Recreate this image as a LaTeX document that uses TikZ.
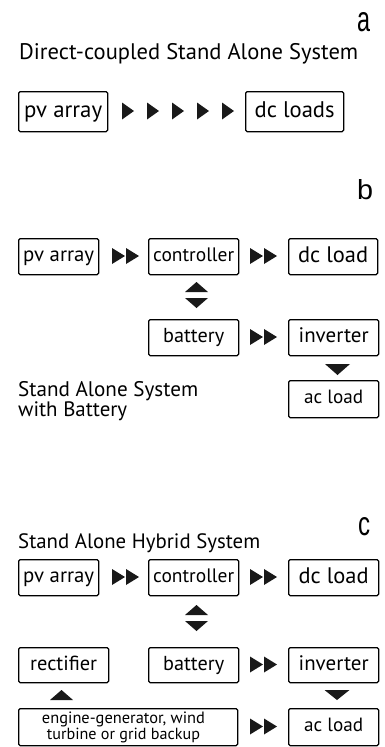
\documentclass[tikz,border=0pt]{standalone}
\usepackage{fontspec}
\setmainfont{PT Sans}
\newfontfamily\labfont{Liberation Sans}
\newcommand{\fitw}[2]{\resizebox{#1}{!}{\vphantom{Ag}#2}}
\newcommand{\plainw}[2]{\resizebox{#1}{!}{#2}}
\newcommand{\bx}[6]{\node[box, minimum width={#4-#2}, minimum height={#5-#3}] (#1) at (#2,#3) {#6};}
\newcommand{\rtri}[4]{\fill[tri] (#1,{#2-#4/2}) -- ({#1+#3},#2) -- (#1,{#2+#4/2}) -- cycle;}
\newcommand{\utri}[4]{\fill[tri] ({#1-#3/2},{#2+#4}) -- (#1,#2) -- ({#1+#3/2},{#2+#4}) -- cycle;}
\newcommand{\dtri}[4]{\fill[tri] ({#1-#3/2},#2) -- ({#1+#3/2},#2) -- (#1,{#2+#4}) -- cycle;}
\begin{document}
\begin{tikzpicture}[x=1pt,y=-1pt,
  box/.style={draw, line width=1.3pt, rounded corners=1.5pt, inner sep=0pt, anchor=north west},
  tri/.style={fill=black!90},
  txt/.style={inner sep=0pt, anchor=base west}]
\useasboundingbox[fill=white] (0,0) rectangle (385,747);
% ---------- part a ----------
\node[inner sep=0pt, anchor=south west] (la) at (357,32) {\labfont\resizebox{13pt}{19pt}{a}};
\node[txt] (ta) at (19,59) {\plainw{339pt}{Direct-coupled Stand Alone System}};
\bx{pva}{18}{91}{107}{131}{\fitw{78pt}{pv array}}
\bx{dca}{245}{91}{343}{131}{\fitw{80pt}{dc loads}}
\rtri{122}{111}{12}{17}
\rtri{147}{111}{12}{17}
\rtri{172}{111}{12}{17}
\rtri{197}{111}{12}{17}
\rtri{222}{111}{12}{17}
% ---------- part b ----------
\node[inner sep=0pt, anchor=south west] (lb) at (357,200) {\labfont\resizebox{16pt}{20pt}{b}};
\bx{pvb}{18}{238}{98}{274}{\fitw{71pt}{pv array}}
\bx{ctb}{148}{238}{238}{274}{\fitw{81pt}{controller}}
\bx{dcb}{288}{238}{377}{274}{\fitw{70pt}{dc load}}
\bx{btb}{148}{319}{238}{355}{\fitw{61pt}{battery}}
\bx{ivb}{288}{319}{378}{355}{\fitw{70pt}{inverter}}
\bx{acb}{288}{380}{378}{417}{\fitw{59pt}{ac load}}
\rtri{112}{256}{13}{16}\rtri{126}{256}{13}{16}
\rtri{250}{256}{13}{16}\rtri{264}{256}{13}{16}
\rtri{250}{337}{13}{16}\rtri{264}{337}{13}{16}
\utri{196.5}{282}{23}{10}
\dtri{196.5}{298}{23}{10}
\dtri{337.5}{364}{25}{11}
\node[txt] (tb1) at (18,396) {\plainw{180pt}{Stand Alone System}};
\node[txt] (tb2) at (18,416) {\plainw{109pt}{with Battery}};
% ---------- part c ----------
\node[inner sep=0pt, anchor=south west] (lc) at (358,536) {\labfont\resizebox{12pt}{18pt}{c}};
\node[txt] (tc) at (18,548) {\plainw{242pt}{Stand Alone Hybrid System}};
\bx{pvc}{18}{559}{98}{595}{\fitw{71pt}{pv array}}
\bx{ctc}{148}{559}{238}{595}{\fitw{81pt}{controller}}
\bx{dcc}{288}{559}{378}{595}{\fitw{70pt}{dc load}}
\bx{rec}{18}{647}{108}{682}{\fitw{67pt}{rectifier}}
\bx{btc}{148}{647}{238}{682}{\fitw{61pt}{battery}}
\bx{ivc}{288}{647}{378}{682}{\fitw{70pt}{inverter}}
\bx{enc}{18}{708}{237}{745}{}
\bx{acc}{288}{708}{378}{745}{\fitw{59pt}{ac load}}
\node[inner sep=0pt, anchor=base] (en1) at (123.5,723) {\resizebox{163pt}{!}{engine-generator, wind}};
\node[inner sep=0pt, anchor=base] (en2) at (123.5,739) {\resizebox{153pt}{!}{turbine or grid backup}};
\rtri{112}{577}{13}{16}\rtri{126}{577}{13}{16}
\rtri{250}{577}{13}{16}\rtri{264}{577}{13}{16}
\rtri{250}{664.5}{13}{16}\rtri{264}{664.5}{13}{16}
\rtri{250}{726.5}{13}{16}\rtri{264}{726.5}{13}{16}
\utri{196.5}{605}{23}{10}
\dtri{196.5}{621}{23}{10}
\utri{61.5}{690}{23}{10}
\dtri{337}{690}{25}{10}
\end{tikzpicture}
\end{document}
